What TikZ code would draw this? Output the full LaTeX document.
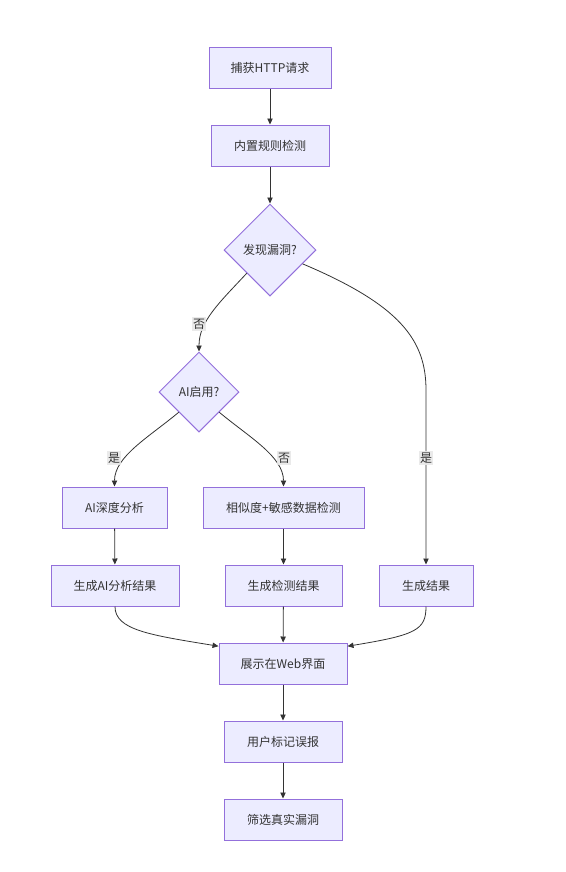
\documentclass[tikz,border=0pt]{standalone}
\usepackage{fontspec}
\setmainfont{Noto Sans CJK SC}
\usetikzlibrary{shapes.geometric,arrows.meta}

\definecolor{mmfill}{RGB}{236,236,255}
\definecolor{mmstroke}{RGB}{147,112,219}
\definecolor{mmline}{RGB}{51,51,51}
\definecolor{mmlabel}{RGB}{232,232,232}

\begin{document}
\begin{tikzpicture}[x=0.75pt,y=0.75pt,yscale=-1,xscale=1,
  font=\fontsize{9pt}{11pt}\selectfont,
  proc/.style={rectangle, draw=mmstroke, fill=mmfill, line width=0.75pt, text=mmline, inner sep=0pt, minimum height=30.75pt},
  decide/.style={diamond, aspect=1, draw=mmstroke, fill=mmfill, line width=0.75pt, text=mmline, inner sep=0pt},
  flow/.style={draw=mmline, line width=0.6pt, -{Triangle[length=4.5pt,width=4pt]}},
  lbl/.style={fill=mmlabel, fill opacity=0.9, text opacity=1, text=mmline, inner sep=1pt}]
%set diagram left start at 0, and has height of 872
\useasboundingbox (0,0) rectangle (565,872);

%Shape: Rectangle
\node [proc, minimum width=91.5pt] (capture) at (270,67.5) {捕获HTTP请求};
%Shape: Rectangle
\node [proc, minimum width=88.5pt] (rules) at (270,145.5) {内置规则检测};
%Shape: Diamond
\node [decide, minimum size=69pt] (found) at (270,250) {发现漏洞?};
%Shape: Diamond
\node [decide, minimum size=60pt] (aion) at (199,392) {AI启用?};
%Shape: Rectangle
\node [proc, minimum width=78.75pt] (aideep) at (114.5,507.5) {AI深度分析};
%Shape: Rectangle
\node [proc, minimum width=120.75pt] (simcheck) at (283.5,507.5) {相似度+敏感数据检测};
%Shape: Rectangle
\node [proc, minimum width=96pt] (aires) at (115,585.5) {生成AI分析结果};
%Shape: Rectangle
\node [proc, minimum width=87.75pt] (checkres) at (283.5,585.5) {生成检测结果};
%Shape: Rectangle
\node [proc, minimum width=70.5pt] (result) at (426,585.5) {生成结果};
%Shape: Rectangle
\node [proc, minimum width=96pt] (web) at (283,663.5) {展示在Web界面};
%Shape: Rectangle
\node [proc, minimum width=88.5pt] (mark) at (283,741.5) {用户标记误报};
%Shape: Rectangle
\node [proc, minimum width=88.5pt] (filter) at (283,819.5) {筛选真实漏洞};

%Straight Lines
\draw [flow] (capture) -- (rules);
\draw [flow] (rules) -- (found);
%Curve Lines
\draw [flow] (found.south west) .. controls +(-28,30) and +(0,-30) .. (aion.north);
\draw [flow] (found.-23) .. controls (400,305) and (426,340) .. (426,390) -- (result.north);
\draw [flow] (aion.south west) .. controls +(-30,25) and +(0,-30) .. (aideep.north);
\draw [flow] (aion.south east) .. controls +(30,25) and +(0,-30) .. (simcheck.north);
%Straight Lines
\draw [flow] (aideep) -- (aires);
\draw [flow] (simcheck) -- (checkres);
%Curve Lines
\draw [flow] (aires.south) .. controls (115,630) and (150,635) .. (web.165);
\draw [flow] (result.south) .. controls (426,630) and (416,635) .. (web.15);
%Straight Lines
\draw [flow] (checkres) -- (web);
\draw [flow] (web) -- (mark);
\draw [flow] (mark) -- (filter);

% Text Node
\node [lbl] (nofound) at (199,324) {否};
% Text Node
\node [lbl] (yesai) at (114,458) {是};
% Text Node
\node [lbl] (noai) at (284,458) {否};
% Text Node
\node [lbl] (yesfound) at (426,458) {是};

\end{tikzpicture}
\end{document}
